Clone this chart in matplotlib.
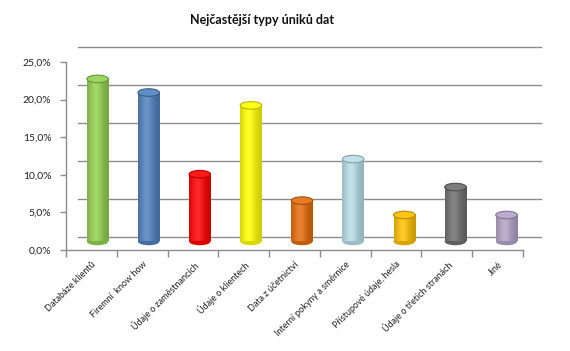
import numpy as np
import matplotlib
matplotlib.use("Agg")
import matplotlib.pyplot as plt
import matplotlib.colors as mcolors
from matplotlib import transforms
from matplotlib.patches import Ellipse
from matplotlib.lines import Line2D
from matplotlib.ticker import FuncFormatter

# data (percent)
categories = [
    "Databáze klientů",
    "Firemní  know how",
    "Údaje o zaměstnancích",
    "Údaje o klientech",
    "Data z účetnictví",
    "Interní pokyny a směrnice",
    "Přístupové údaje, hesla",
    "Údaje o třetích stranách",
    "Jiné",
]
shares = [21.5, 19.7, 8.9, 18.0, 5.4, 10.9, 3.5, 7.2, 3.5]
bar_colors = ["#92D050", "#4F81BD", "#FF0000", "#FFFF00", "#E46C0A",
              "#B7DEE8", "#FFC000", "#6E6E6E", "#B3A2C7"]
y_ticks = [0, 5, 10, 15, 20, 25]
title = "Nejčastější typy úniků dat"

plt.rcParams['font.family'] = ['Lato', 'DejaVu Sans']
line_col = "#8C8C8C"

fig = plt.figure(figsize=(5.7, 3.51), dpi=100)
# axes = front plane of the 3d box
ax = fig.add_axes([66 / 570, 101 / 351, 457 / 570, 188 / 351])
ax.patch.set_visible(False)

# back wall and mid-depth (where the cylinders stand), as pixel shifts
back = ax.transData + transforms.Affine2D().scale(1.0131, 1.0106).translate(11.1, 11.9)
mid = ax.transData + transforms.Affine2D().scale(1.0066, 1.0053).translate(5.6, 8.0)

n = len(categories)
x = np.arange(n)

# back wall gridlines
for y in y_ticks:
    ax.plot([-0.5, n - 0.5], [y, y], transform=back, color=line_col, lw=1.0,
            clip_on=False, zorder=1)
    # side wall lines from front axis to back wall
    p0 = ax.transData.transform((-0.5, y))
    p1 = back.transform((-0.5, y))
    fig.add_artist(Line2D([p0[0], p1[0]], [p0[1], p1[1]], color=line_col, lw=1.0,
                          transform=transforms.IdentityTransform()))

# floor right edge
p0 = ax.transData.transform((n - 0.5, 0))
p1 = back.transform((n - 0.5, 0))
fig.add_artist(Line2D([p0[0], p1[0]], [p0[1], p1[1]], color=line_col, lw=1.0,
                      transform=transforms.IdentityTransform()))

# cylinders
w = 0.42
eh = 1.0
t = np.linspace(0, 1, 64)
g = np.exp(-((t - 0.4) / 0.32) ** 2)
for xi, v, c in zip(x, shares, bar_colors):
    base = np.array(mcolors.to_rgb(c))
    dark = 0.8 + 0.2 * g
    img = base[None, :] * dark[:, None] + (1 - base[None, :]) * 0.15 * g[:, None]
    img = np.clip(img, 0, 1)[None, :, :]
    # bottom cap
    ax.add_patch(Ellipse((xi, 0), w, eh, transform=mid, facecolor=base * 0.85,
                         edgecolor='none', zorder=2))
    ax.imshow(img, extent=(xi - w / 2, xi + w / 2, 0, v), transform=mid,
              aspect='auto', interpolation='bilinear', zorder=3)
    top = np.clip(base * 0.9 + 0.1, 0, 1)
    ax.add_patch(Ellipse((xi, v), w, eh, transform=mid, facecolor=top,
                         edgecolor=base * 0.72, lw=0.8, zorder=4))

ax.set_xlim(-0.5, n - 0.5)
ax.set_ylim(0, 25)

for s in ['top', 'right']:
    ax.spines[s].set_visible(False)
for s in ['left', 'bottom']:
    ax.spines[s].set_color(line_col)
    ax.spines[s].set_linewidth(1.0)

ax.set_yticks(y_ticks)
ax.yaxis.set_major_formatter(FuncFormatter(lambda v, p: f"{v:.1f}".replace('.', ',') + '%'))
ax.tick_params(axis='y', length=4, width=1, color=line_col, pad=6.5,
               labelsize=7.5, labelcolor='#222222')

ax.set_xticks(x)
ax.set_xticklabels(categories, rotation=45, ha='right', rotation_mode='anchor')
ax.set_xticks(np.arange(n + 1) - 0.5, minor=True)
ax.tick_params(axis='x', which='major', length=0, pad=7, labelsize=6.5,
               labelcolor='#222222')
ax.tick_params(axis='x', which='minor', length=5, width=1, color=line_col)

fig.text(262 / 570, 1 - 20 / 351, title, ha='center', va='center',
         fontsize=9, fontweight='bold', color='#111111')

fig.savefig("out.png", dpi=100)
